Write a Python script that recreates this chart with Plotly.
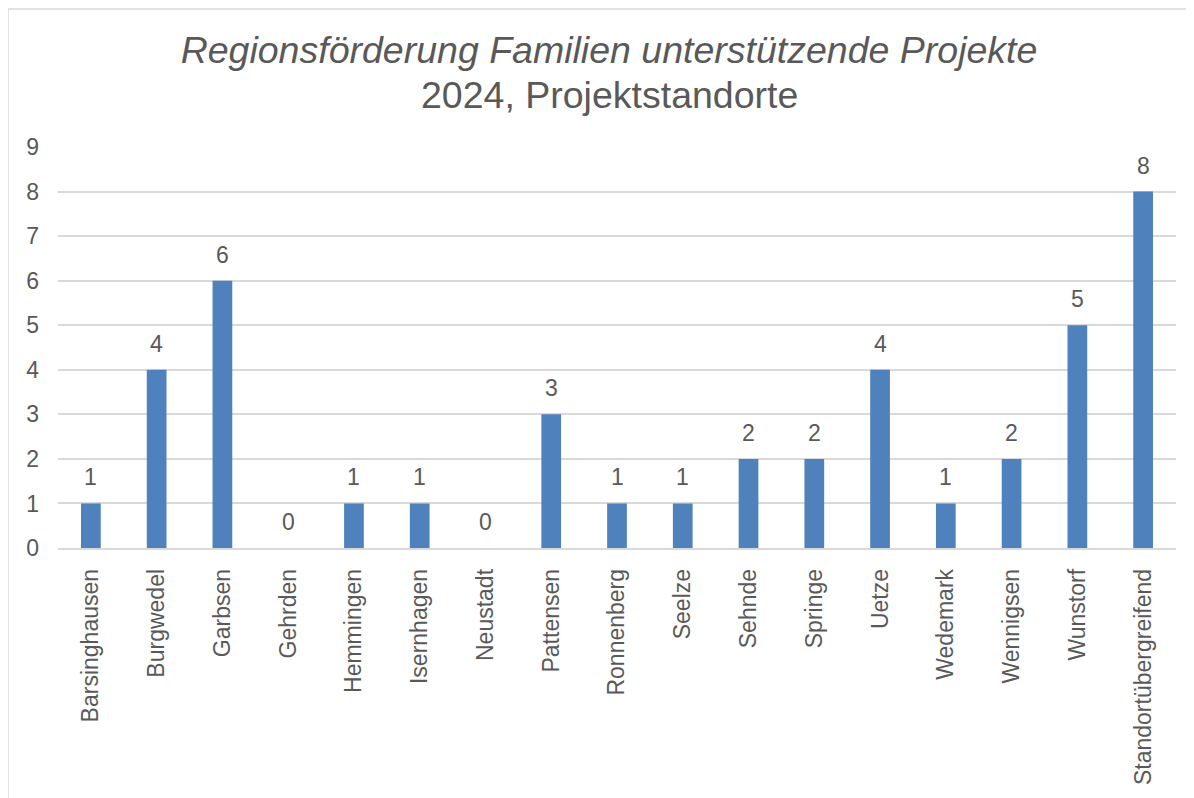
import plotly.graph_objects as go

categories = ["Barsinghausen", "Burgwedel", "Garbsen", "Gehrden", "Hemmingen", "Isernhagen",
              "Neustadt", "Pattensen", "Ronnenberg", "Seelze", "Sehnde", "Springe", "Uetze",
              "Wedemark", "Wennigsen", "Wunstorf", "Standortübergreifend"]
values = [1, 4, 6, 0, 1, 1, 0, 3, 1, 1, 2, 2, 4, 1, 2, 5, 8]
y_ticks = [0, 1, 2, 3, 4, 5, 6, 7, 8, 9]
title_line1 = "Regionsförderung Familien unterstützende Projekte"
title_line2 = "2024, Projektstandorte"

W, H = 1186, 790
L, R, T, B = 50, 18, 139, 250
pw, ph = W - L - R, H - T - B

font_family = "Liberation Sans, Arial, sans-serif"
grey = "#595959"

fig = go.Figure()
fig.add_trace(go.Bar(x=categories, y=values, marker=dict(color="#4F81BD", line=dict(width=0)),
                     hoverinfo="x+y"))

for c, v in zip(categories, values):
    fig.add_annotation(x=c, y=v, text=str(v), showarrow=False, yanchor="bottom", yshift=11,
                       font=dict(size=23, color=grey, family=font_family))

# second title line
fig.add_annotation(xref="paper", yref="paper", x=(601 - L) / pw, y=(T + ph - 87) / ph,
                   xanchor="center", yanchor="middle", showarrow=False, text=title_line2,
                   font=dict(size=37.5, color=grey, family=font_family))

# outer chart border (light grey): only left and top edges are visible in the reference
bx0 = (0 - L) / pw
by1 = (T + ph - 1) / ph
fig.add_shape(type="line", xref="paper", yref="paper", x0=bx0, x1=bx0,
              y0=(T + ph - (H + 20)) / ph, y1=by1,
              line=dict(color="#D9D9D9", width=1.5), layer="below")
fig.add_shape(type="line", xref="paper", yref="paper", x0=bx0, x1=(W + 20 - L) / pw,
              y0=by1, y1=by1,
              line=dict(color="#D9D9D9", width=1.5), layer="below")

fig.update_layout(
    width=W, height=H,
    margin=dict(l=L, r=R, t=T, b=B, autoexpand=False),
    paper_bgcolor="white", plot_bgcolor="white",
    bargap=0.7,
    showlegend=False,
    font=dict(family=font_family, color=grey),
    title=dict(text="<i>" + title_line1 + "</i>",
               x=601 / W, xanchor="center", xref="container", y=1 - 42 / H, yanchor="middle",
               yref="container",
               font=dict(size=37.5, color=grey, family=font_family)),
    xaxis=dict(type="category", tickangle=-90, tickfont=dict(size=23, color=grey),
               showgrid=False, showline=True, linecolor="#D9D9D9", linewidth=1.5,
               ticks="", ticklabelstandoff=10),
    yaxis=dict(range=[0, 9], tickvals=y_ticks, tickfont=dict(size=23, color=grey),
               showgrid=True, gridcolor="#D9D9D9", gridwidth=1.5, zeroline=False,
               showline=False, ticks="", ticklabelstandoff=18),
)

fig.write_html("out.html")
